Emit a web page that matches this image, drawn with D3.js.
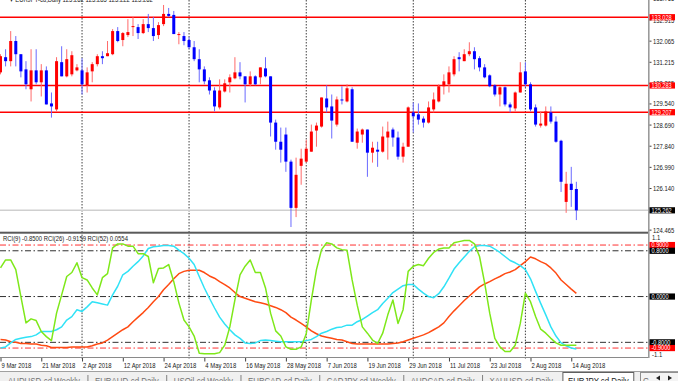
<!DOCTYPE html>
<html><head><meta charset="utf-8">
<script src="https://cdn.jsdelivr.net/npm/d3@7"></script>
<style>
body{margin:0;background:#fff;overflow:hidden;}
svg{display:block;font-family:"Liberation Sans",Arial,sans-serif;}
</style>
</head><body>
<svg id="c" width="678" height="381"></svg>
<script>
// ---------------- DATA ----------------
const symbolTitle = "EURJPY-cd,Daily  125.262 125.285 125.222 125.262";
const firstDay = "2018-03-09";
const lastDay = "2018-08-15";

const opens = [130.81,131.42,131.26,132.07,131.54,130.93,130.13,130.89,130.41,130.89,
129.56,129.32,131.22,130.65,130.73,130.89,130.89,130.29,130.85,131.14,
131.46,131.46,131.54,132.47,132.11,132.31,132.63,132.63,132.39,132.75,
132.59,132.31,132.75,133.16,133.12,132.31,132.27,132.11,131.82,131.34,
130.93,130.49,130.08,129.40,130.04,130.41,130.57,130.81,130.65,130.33,
130.65,130.61,130.97,130.65,128.79,128.02,128.31,127.22,125.36,127.05,
127.22,127.62,128.47,128.63,129.76,129.44,128.71,129.72,129.64,130.13,
127.98,128.31,128.51,127.58,127.70,127.62,128.19,128.51,128.19,127.42,
127.82,129.20,129.12,128.95,128.79,129.32,129.64,130.25,130.33,130.73,
131.42,131.26,131.54,131.66,131.38,131.01,130.69,130.29,129.92,130.21,
129.52,129.36,130.00,130.85,130.33,129.40,128.67,128.67,129.20,128.83,
128.06,125.60,126.33,126.12];
const highs = [131.54,131.74,132.47,132.27,131.54,131.26,131.74,131.74,131.14,131.05,
130.00,131.42,131.86,131.74,131.66,131.14,131.38,131.01,131.22,131.54,
131.66,132.07,132.55,132.63,132.43,132.95,133.03,132.75,132.95,133.16,
133.03,132.83,133.52,133.40,133.28,132.43,132.43,132.23,132.07,131.74,
131.05,130.61,130.21,130.53,130.53,130.73,131.42,131.22,130.65,130.85,
130.69,131.01,131.42,130.65,128.91,128.59,128.59,127.30,127.38,127.74,
128.10,128.71,128.79,129.80,130.29,129.92,129.84,130.25,130.33,130.21,
128.55,128.55,128.51,128.02,128.02,128.63,128.83,128.59,128.43,127.98,
129.44,129.60,129.56,129.04,129.64,130.00,130.33,130.73,131.05,131.46,
131.62,131.74,132.02,131.82,131.46,131.14,130.73,130.33,130.25,130.25,
129.60,130.04,131.22,131.22,130.41,129.52,129.24,129.44,129.44,129.04,
128.10,126.81,127.01,126.41];
const lows = [130.73,131.05,131.05,131.05,130.61,130.13,129.64,130.33,129.84,129.52,
128.99,129.24,130.65,130.61,130.65,130.85,129.92,130.00,130.41,131.05,
131.14,131.46,131.50,132.02,131.86,132.23,132.27,132.15,132.35,132.43,
132.07,132.15,132.67,133.03,132.35,131.94,131.90,131.74,131.26,130.41,
130.33,129.92,129.24,129.32,130.00,130.00,130.53,130.53,129.60,130.25,
130.29,130.33,130.61,128.23,127.70,127.18,126.81,124.59,124.99,126.29,
127.18,127.62,127.82,128.59,129.20,128.15,128.63,129.52,129.60,128.02,
127.74,127.98,126.61,127.18,127.01,127.58,127.30,127.82,127.30,127.18,
127.82,128.39,128.71,128.59,128.75,129.20,129.60,129.92,130.00,130.65,
130.85,131.26,131.46,130.93,130.85,130.57,130.21,129.84,129.44,129.44,
129.20,129.24,130.00,130.21,129.24,128.63,128.59,128.63,128.75,127.98,
126.00,125.16,125.40,124.87];
const closes = [131.46,131.26,132.07,131.54,130.85,130.33,130.89,130.41,130.89,129.52,
129.44,131.26,130.65,131.34,131.50,131.01,130.33,130.81,131.14,131.46,
131.38,131.58,132.47,132.07,132.39,132.43,132.67,132.39,132.75,132.59,
132.27,132.71,133.16,133.08,132.35,132.35,132.07,131.82,131.34,130.93,
130.45,130.08,129.44,130.08,130.37,130.61,130.81,130.65,130.33,130.65,
130.33,131.01,130.65,128.79,128.02,127.70,127.22,125.36,126.69,127.34,
127.74,128.43,128.67,129.80,129.40,128.87,129.72,129.68,130.17,128.02,
128.43,128.51,127.58,127.78,127.62,128.23,128.43,128.19,127.42,127.82,
129.40,129.04,128.91,128.79,129.40,129.72,130.25,130.45,130.81,131.34,
131.34,131.54,131.66,131.34,131.01,130.61,130.25,129.92,130.21,129.52,
129.40,130.00,130.81,130.33,129.32,128.71,128.75,129.24,128.83,128.02,
126.41,126.33,126.08,125.26];

const rci9 = [0.50,0.64,0.64,0.47,0.00,-0.46,-0.39,-0.42,-0.61,-0.70,
-0.77,-0.29,0.03,0.35,0.42,0.59,0.33,0.29,0.15,0.03,
0.33,0.40,0.85,0.92,0.92,0.88,0.88,0.75,0.75,0.70,
0.24,0.49,0.50,0.56,0.26,-0.11,-0.41,-0.53,-0.69,-0.99,
-1.00,-1.00,-1.00,-0.98,-0.85,-0.53,-0.06,0.38,0.53,0.64,
0.42,0.42,0.15,-0.29,-0.60,-0.69,-0.88,-0.92,-0.92,-0.88,
-0.65,-0.06,0.47,0.82,0.94,0.92,0.85,0.82,0.81,0.29,
-0.15,-0.53,-0.64,-0.76,-0.82,-0.64,-0.32,-0.06,-0.47,-0.23,
0.44,0.53,0.56,0.54,0.67,0.77,0.83,0.85,0.85,0.94,
0.96,0.98,0.98,0.92,0.70,0.24,-0.29,-0.73,-0.88,-0.96,
-0.96,-0.85,-0.47,0.06,-0.09,-0.35,-0.57,-0.64,-0.73,-0.81,
-0.85,-0.85,-0.85,-0.85];
const rci26 = [-0.90,-0.88,-0.81,-0.75,-0.73,-0.71,-0.70,-0.67,-0.61,-0.61,
-0.61,-0.58,-0.53,-0.41,-0.35,-0.23,-0.26,-0.18,-0.09,-0.11,
-0.13,-0.15,0.03,0.18,0.38,0.44,0.53,0.61,0.71,0.84,
0.87,0.88,0.89,0.89,0.88,0.81,0.75,0.67,0.56,0.35,
0.15,-0.03,-0.20,-0.36,-0.48,-0.58,-0.67,-0.73,-0.81,-0.82,
-0.81,-0.77,-0.76,-0.77,-0.78,-0.79,-0.79,-0.79,-0.79,-0.79,
-0.77,-0.75,-0.70,-0.64,-0.61,-0.57,-0.54,-0.53,-0.50,-0.50,
-0.44,-0.40,-0.34,-0.28,-0.23,-0.12,-0.03,0.07,0.13,0.19,
0.21,0.21,0.13,0.06,0.00,-0.02,0.05,0.17,0.32,0.48,
0.59,0.69,0.79,0.87,0.89,0.89,0.88,0.83,0.77,0.70,
0.63,0.59,0.54,0.47,0.31,0.09,-0.12,-0.32,-0.53,-0.69,
-0.81,-0.86,-0.90,-0.9159];
const rci52 = [-0.75,-0.76,-0.79,-0.80,-0.82,-0.82,-0.83,-0.83,-0.85,-0.86,
-0.89,-0.89,-0.89,-0.89,-0.88,-0.88,-0.88,-0.88,-0.86,-0.83,
-0.81,-0.76,-0.70,-0.64,-0.58,-0.53,-0.44,-0.36,-0.28,-0.19,
-0.09,0.00,0.12,0.21,0.31,0.40,0.44,0.46,0.46,0.46,
0.42,0.36,0.32,0.26,0.21,0.15,0.07,0.00,-0.03,-0.06,
-0.09,-0.11,-0.13,-0.16,-0.19,-0.23,-0.28,-0.36,-0.41,-0.47,
-0.53,-0.60,-0.65,-0.69,-0.71,-0.73,-0.75,-0.76,-0.79,-0.82,
-0.83,-0.83,-0.83,-0.83,-0.83,-0.83,-0.83,-0.82,-0.81,-0.79,
-0.76,-0.73,-0.70,-0.67,-0.63,-0.58,-0.53,-0.46,-0.35,-0.25,
-0.16,-0.07,0.01,0.09,0.17,0.22,0.26,0.31,0.35,0.40,
0.43,0.47,0.54,0.61,0.69,0.66,0.61,0.57,0.50,0.41,
0.29,0.21,0.13,0.0554];
const rciHeader = "RCI(9) -0.8500  RCI(26) -0.9159  RCI(52) 0.0554";

const levelLines = [133.028, 130.283, 129.207];
const levelLabels = ["133.028", "130.283", "129.207"];
const lastPrice = 125.262;
const lastPriceLabel = "125.262";
const priceTickValues = [133.765, 132.915, 132.065, 131.215, 130.365, 129.540, 128.690, 127.840, 126.990, 126.140, 124.465];
const priceTickLabels = ["133.765","132.915","132.065","131.215","130.365","129.540","128.690","127.840","126.990","126.140","124.465"];
const rciLevels = [0.9, 0.8, 0, -0.8, -0.9];
const rciLevelLabels = ["0.9000","0.8000","0.0000","-0.8000","-0.9000"];
const rciLevelKinds = ["red","black","black","black","red"];
const rciBounds = [1.1, -1.1];
const rciBoundLabels = ["1.1", "-1.1"];
const dateLabelStep = 8;
const tabNames = ["AUDUSD-cd Weekly","EURAUD-cd Daily","USOil-cd Weekly","EURCAD-cd Daily","CADJPY-cd Weekly","AUDCAD-cd Daily","XAUUSD-cd Daily","EURJPY-cd Daily"];
const activeTab = "EURJPY-cd Daily";

// ---------------- LAYOUT ----------------
const W = 678, H = 381;
const plotRight = 648;
const mainTop = 0, mainBottom = 232;
const rciTop = 233.6, rciBottom = 359.5;
const SX = 0.82; // horizontal squeeze of the screenshot text
const FS = 7.2;

const svg = d3.select("#c");

const parse = d3.timeParse("%Y-%m-%d");
const dates = d3.timeDay.range(parse(firstDay), d3.timeDay.offset(parse(lastDay), 1))
  .filter(d => d.getDay() !== 0 && d.getDay() !== 6);

const bars = dates.map((d, i) => ({i, date: d, o: opens[i], h: highs[i], l: lows[i], c: closes[i]}));

const x = d3.scaleLinear().domain([0, 127]).range([0.5, 647.7]);
const y = d3.scaleLinear().domain([124.39, 133.72]).range([mainBottom, mainTop]);
const yr = d3.scaleLinear().domain(rciBounds.slice().reverse()).range([rciBottom, rciTop]);

function T(parent, tx, ty, str, o = {}) {
  const size = o.size || FS, sx = o.sx || SX;
  return parent.append("text")
    .attr("transform", `translate(${tx},${ty}) scale(${sx},1)`)
    .attr("font-size", size)
    .attr("fill", o.fill || "#000")
    .attr("text-anchor", o.anchor || "start")
    .text(str);
}

// background
svg.append("rect").attr("width", W).attr("height", H).attr("fill", "#fff");

const defs = svg.append("defs");
defs.append("clipPath").attr("id", "mainClip").append("rect")
  .attr("x", 0).attr("y", mainTop).attr("width", plotRight).attr("height", mainBottom - mainTop);
defs.append("clipPath").attr("id", "rciClip").append("rect")
  .attr("x", 0).attr("y", rciTop).attr("width", plotRight).attr("height", rciBottom - rciTop);

// title (partially cut at top, as in the screenshot)
T(svg, 10, 2.3, "\u25BE " + symbolTitle, {fill: "#202020"});

// period separators
const sepIdx = bars.filter((b, i) => i > 0 && b.date.getMonth() !== bars[i - 1].date.getMonth()).map(b => b.i);
const sepG = svg.append("g");
sepIdx.forEach(i => {
  sepG.append("line").attr("x1", x(i)).attr("x2", x(i)).attr("y1", mainTop).attr("y2", mainBottom)
    .attr("stroke", "#404040").attr("stroke-width", 1).attr("stroke-dasharray", "1.5,1.5");
  sepG.append("line").attr("x1", x(i)).attr("x2", x(i)).attr("y1", rciTop + 1).attr("y2", rciBottom - 1)
    .attr("stroke", "#404040").attr("stroke-width", 1).attr("stroke-dasharray", "1.5,1.5");
});

// main panel
const main = svg.append("g").attr("clip-path", "url(#mainClip)");

main.append("line").attr("x1", 0).attr("x2", plotRight).attr("y1", y(lastPrice)).attr("y2", y(lastPrice))
  .attr("stroke", "#cfcfcf").attr("stroke-width", 1.5);

levelLines.forEach(v => {
  main.append("line").attr("x1", 0).attr("x2", plotRight).attr("y1", y(v)).attr("y2", y(v))
    .attr("stroke", "#ff0000").attr("stroke-width", 1.4);
});

const up = b => b.c > b.o;
main.append("g").selectAll("line").data(bars).join("line")
  .attr("x1", b => x(b.i)).attr("x2", b => x(b.i))
  .attr("y1", b => y(b.h)).attr("y2", b => y(b.l))
  .attr("stroke", b => up(b) ? "#ff6a6a" : "#6a6aff").attr("stroke-width", 1);
main.append("g").selectAll("rect").data(bars).join("rect")
  .attr("x", b => x(b.i) - 1.5).attr("width", 3)
  .attr("y", b => y(Math.max(b.o, b.c)))
  .attr("height", b => Math.max(1, Math.abs(y(b.o) - y(b.c))))
  .attr("fill", b => up(b) ? "#ff0000" : "#0000ff");

// panel separator
svg.append("rect").attr("x", 0).attr("y", mainBottom - 0.3).attr("width", plotRight + 1).attr("height", 2)
  .attr("fill", "#5a5a5a");

// RCI panel
const rci = svg.append("g").attr("clip-path", "url(#rciClip)");
rciLevels.forEach((v, k) => {
  const red = rciLevelKinds[k] === "red";
  rci.append("line").attr("x1", 0).attr("x2", plotRight).attr("y1", yr(v)).attr("y2", yr(v))
    .attr("stroke", red ? "#ff3030" : "#303030").attr("stroke-width", 1)
    .attr("stroke-dasharray", "6,2.5,1.5,2.5");
});
const line = d3.line().x((d, i) => x(i)).y(d => yr(d));
[[rci52, "#ff4a12"], [rci26, "#30e2f6"], [rci9, "#7ee81a"]].forEach(([arr, col]) => {
  rci.append("path").datum(arr).attr("d", line).attr("fill", "none")
    .attr("stroke", col).attr("stroke-width", 1.5).attr("stroke-linejoin", "round");
});
T(svg, 3, 240.5, rciHeader, {fill: "#202020"});

svg.append("line").attr("x1", 0).attr("x2", plotRight + 1).attr("y1", 357.5).attr("y2", 357.5)
  .attr("stroke", "#8a8a8a").attr("stroke-width", 1);

// right axis line
svg.append("line").attr("x1", plotRight + 0.8).attr("x2", plotRight + 0.8).attr("y1", 0).attr("y2", 358)
  .attr("stroke", "#9a9a9a").attr("stroke-width", 1.6);

// price ticks and labels
const axisG = svg.append("g");
priceTickValues.forEach((v, k) => {
  axisG.append("line").attr("x1", plotRight + 1.5).attr("x2", plotRight + 3.5)
    .attr("y1", y(v)).attr("y2", y(v)).attr("stroke", "#404040").attr("stroke-width", 1);
  T(axisG, 653, y(v) + 2.5, priceTickLabels[k], {fill: "#202020"});
});

function boxLabel(yy, str, bg) {
  svg.append("rect").attr("x", 649.5).attr("y", yy - 3.1).attr("width", 25.5).attr("height", 6.2).attr("fill", bg);
  T(svg, 651.5, yy + 2.4, str, {fill: "#fff", size: 6.8});
}
levelLines.forEach((v, k) => boxLabel(y(v), levelLabels[k], "#ff0000"));
boxLabel(y(lastPrice), lastPriceLabel, "#000");

rciLevels.forEach((v, k) => boxLabel(yr(v), rciLevelLabels[k], rciLevelKinds[k] === "red" ? "#ff0000" : "#000"));
T(svg, 652, 240.2, rciBoundLabels[0], {fill: "#202020"});
T(svg, 652, 357.3, rciBoundLabels[1], {fill: "#202020"});

// date axis
const fmt = d3.timeFormat("%-d %b %Y");
const dateG = svg.append("g");
bars.filter(b => b.i % dateLabelStep === 0).forEach(b => {
  dateG.append("line").attr("x1", x(b.i) + 0.5).attr("x2", x(b.i) + 0.5).attr("y1", 358).attr("y2", 361.5)
    .attr("stroke", "#404040").attr("stroke-width", 1);
  T(dateG, x(b.i) + 1, 367.8, fmt(b.date), {fill: "#202020"});
});

// tab bar
const tabG = svg.append("g");
tabG.append("rect").attr("x", 0).attr("y", 371.5).attr("width", W).attr("height", 10).attr("fill", "#f0f0f0");
tabG.append("line").attr("x1", 0).attr("x2", W).attr("y1", 371.5).attr("y2", 371.5).attr("stroke", "#a0a0a0");
let tx = 8;
const TSX = 0.82, TFS = 9.6;
tabNames.forEach((name, k) => {
  const isActive = name === activeTab;
  if (isActive) {
    const tmp = T(tabG, tx, 384, name, {size: TFS, sx: TSX, fill: "#303030"});
    const w = tmp.node().getComputedTextLength() * TSX;
    tmp.remove();
    tabG.append("rect").attr("x", tx - 5).attr("y", 372.5).attr("width", w + 10).attr("height", 10)
      .attr("fill", "#fff").attr("stroke", "#606060").attr("stroke-width", 1);
    T(tabG, tx, 384, name, {size: TFS, sx: TSX, fill: "#202020"});
    tx += w + 10;
  } else {
    const t = T(tabG, tx, 384, name, {size: TFS, sx: TSX, fill: "#707070"});
    const w = t.node().getComputedTextLength() * TSX;
    const next = tabNames[k + 1];
    if (next !== activeTab) {
      tabG.append("line").attr("x1", tx + w + 8).attr("x2", tx + w + 8).attr("y1", 375).attr("y2", 381)
        .attr("stroke", "#808080");
    }
    tx += w + 15;
  }
});
tabG.append("rect").attr("x", 640.5).attr("y", 372.5).attr("width", 40).attr("height", 10)
  .attr("fill", "#f4f4f4").attr("stroke", "#909090");
T(tabG, 643, 384, "G", {size: TFS, sx: TSX, fill: "#707070"});
tabG.append("path").attr("d", "M656,378 L660,375.5 L660,380.5 Z").attr("fill", "#202020");
tabG.append("path").attr("d", "M672,378 L668,375.5 L668,380.5 Z").attr("fill", "#202020");
</script>
</body></html>
